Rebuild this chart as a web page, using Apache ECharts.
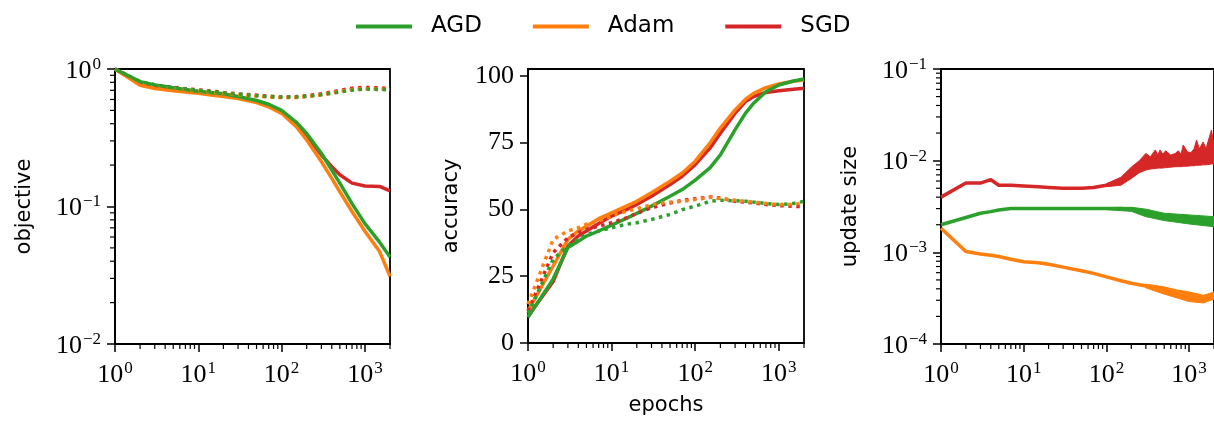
<!DOCTYPE html>
<html lang="en">
<head>
    <meta charset="UTF-8">
    <title>AGD vs Adam vs SGD</title>
    <script src="https://cdn.jsdelivr.net/npm/echarts@6.0.0/dist/echarts.min.js"></script>
    <style>
        html, body { margin: 0; padding: 0; background: #fff; }
        #main { width: 1214px; height: 421px; }
    </style>
</head>
<body>
<div id="main"></div>
<script>
    // epochs shared by all panels
    var epochs = [1, 2, 3, 4, 5, 7, 10, 15, 20, 30, 50, 70, 100, 150, 200, 300, 400, 500, 700, 1000, 1500, 2000]

    // objective (solid = train, dotted = test)
    var objAgdTrain = [1.0, 0.81, 0.765, 0.745, 0.73, 0.71, 0.69, 0.672, 0.66, 0.63, 0.59, 0.554, 0.50, 0.41, 0.34, 0.244, 0.184, 0.148, 0.105, 0.075, 0.055, 0.043]
    var objAdamTrain = [1.0, 0.76, 0.72, 0.705, 0.695, 0.68, 0.665, 0.645, 0.63, 0.61, 0.57, 0.53, 0.476, 0.38, 0.305, 0.212, 0.16, 0.128, 0.092, 0.066, 0.047, 0.031]
    var objSgdTrain = [1.0, 0.78, 0.74, 0.725, 0.71, 0.69, 0.675, 0.66, 0.645, 0.62, 0.58, 0.54, 0.49, 0.40, 0.326, 0.237, 0.195, 0.17, 0.148, 0.141, 0.14, 0.13]
    var objAgdTest = [1.0, 0.81, 0.77, 0.745, 0.73, 0.715, 0.70, 0.685, 0.67, 0.655, 0.64, 0.63, 0.625, 0.625, 0.635, 0.65, 0.665, 0.68, 0.70, 0.715, 0.71, 0.705]
    var objAdamTest = [1.0, 0.78, 0.74, 0.73, 0.72, 0.71, 0.695, 0.68, 0.665, 0.65, 0.635, 0.625, 0.62, 0.62, 0.63, 0.65, 0.67, 0.69, 0.71, 0.72, 0.715, 0.71]
    var objSgdTest = [1.0, 0.80, 0.76, 0.745, 0.735, 0.72, 0.705, 0.69, 0.675, 0.66, 0.645, 0.635, 0.625, 0.63, 0.64, 0.66, 0.68, 0.70, 0.725, 0.735, 0.73, 0.72]

    // accuracy
    var accAgdTrain = [9.6, 24.0, 35.7, 38.1, 40.0, 41.9, 44.1, 46.6, 48.5, 51.2, 54.9, 57.4, 60.9, 65.5, 70.4, 79.8, 86.0, 89.7, 94.0, 96.5, 98.0, 98.8]
    var accAdamTrain = [12.0, 28.8, 38.8, 41.9, 43.7, 46.5, 48.7, 51.2, 53.0, 56.2, 60.5, 63.6, 68.0, 74.8, 80.4, 87.2, 91.2, 93.4, 95.5, 96.9, 97.9, 98.4]
    var accSgdTrain = [10.0, 23.0, 36.3, 40.0, 41.9, 44.7, 47.5, 49.9, 51.8, 54.9, 59.3, 62.4, 66.7, 72.9, 78.5, 86.0, 90.3, 92.2, 93.7, 94.4, 94.9, 95.3]
    var accAgdTest = [11.0, 31.3, 36.3, 38.8, 40.6, 41.9, 43.1, 44.4, 45.0, 46.2, 48.1, 49.9, 51.2, 53.0, 53.4, 53.2, 53.0, 52.7, 52.2, 51.8, 52.2, 53.0]
    var accAdamTest = [14.5, 38.8, 41.9, 43.1, 44.4, 45.6, 47.5, 49.3, 50.2, 51.8, 52.7, 53.0, 53.7, 54.5, 54.0, 53.4, 53.0, 52.7, 52.2, 51.8, 51.8, 52.4]
    var accSgdTest = [12.0, 33.8, 39.4, 41.3, 42.5, 43.7, 45.0, 46.8, 48.5, 50.6, 52.4, 53.4, 54.0, 54.6, 54.2, 53.0, 52.7, 52.4, 51.8, 51.4, 51.1, 51.1]

    // update size
    var updSgd = [0.0040, 0.0057, 0.0057, 0.0062, 0.0054, 0.0054, 0.0053, 0.0052, 0.0051, 0.0050, 0.0050, 0.0051, 0.0054, 0.0060, 0.0073, 0.0095, 0.0100, 0.0103, 0.0106, 0.0110, 0.0113, 0.0118]
    var updAgd = [0.0020, 0.0024, 0.00267, 0.00278, 0.0029, 0.0030, 0.0030, 0.0030, 0.0030, 0.0030, 0.0030, 0.0030, 0.0030, 0.0030, 0.00295, 0.0027, 0.00255, 0.00245, 0.00235, 0.0023, 0.00222, 0.00215]
    var updAdam = [0.00183, 0.00102, 0.00096, 0.00093, 0.0009, 0.00084, 0.00079, 0.00077, 0.00074, 0.00069, 0.00063, 0.00059, 0.00054, 0.00049, 0.00046, 0.00043, 0.0004, 0.00038, 0.00035, 0.00033, 0.00031, 0.00034]

    // noise envelopes of the update size (late epochs)
    var sgdBandEpochs = [100, 150, 200, 250, 300, 340, 390, 420, 445, 480, 520, 600, 680, 740, 800, 850, 950, 1050, 1150, 1230, 1330, 1480, 1600, 1860, 2000]
    var sgdUpper = [0.0056, 0.0066, 0.0085, 0.0100, 0.0120, 0.0110, 0.0131, 0.0115, 0.0131, 0.0118, 0.0128, 0.0115, 0.0120, 0.0128, 0.0118, 0.0148, 0.0125, 0.0122, 0.0135, 0.0168, 0.0135, 0.0160, 0.0135, 0.0216, 0.0150]
    var sgdLower = [0.0052, 0.0054, 0.0064, 0.0074, 0.0079, 0.0081, 0.0082, 0.0083, 0.0083, 0.0083, 0.0084, 0.0085, 0.0086, 0.0086, 0.0086, 0.0087, 0.0087, 0.0088, 0.0088, 0.0089, 0.0089, 0.0090, 0.0090, 0.0092, 0.0092]
    var agdBandEpochs = [100, 200, 300, 500, 1000, 2000]
    var agdUpper = [0.00308, 0.0031, 0.00296, 0.00267, 0.00256, 0.00245]
    var agdLower = [0.00292, 0.0028, 0.00245, 0.00222, 0.00204, 0.0019]
    var adamBandEpochs = [300, 500, 700, 1000, 1500, 2000]
    var adamUpper = [0.00045, 0.00042, 0.00039, 0.00037, 0.00034, 0.00037]
    var adamLower = [0.00041, 0.00035, 0.00032, 0.00029, 0.00028, 0.00031]

    // tick values
    var accTicks = [0, 25, 50, 75, 100]
    var epochMinor = [2, 3, 4, 5, 6, 7, 8, 9, 20, 30, 40, 50, 60, 70, 80, 90, 200, 300, 400, 500, 600, 700, 800, 900, 2000]
    var objMinor = [0.02, 0.03, 0.04, 0.05, 0.06, 0.07, 0.08, 0.09, 0.2, 0.3, 0.4, 0.5, 0.6, 0.7, 0.8, 0.9]
    var updMinor = [0.0002, 0.0003, 0.0004, 0.0005, 0.0006, 0.0007, 0.0008, 0.0009,
        0.002, 0.003, 0.004, 0.005, 0.006, 0.007, 0.008, 0.009,
        0.02, 0.03, 0.04, 0.05, 0.06, 0.07, 0.08, 0.09]

    var GREEN = '#2ca02c', ORANGE = '#ff7f0e', RED = '#d62728'
    var SERIF = 'Liberation Serif'
    var SANS = 'DejaVu Sans'

    function pair(ys) {
        return epochs.map(function (x, i) { return [x, ys[i]] })
    }

    function powLabel(v) {
        var l = Math.log10(v)
        var e = Math.round(l)
        if (Math.abs(l - e) > 1e-6) return ''
        return '{b|10}{s|' + (e < 0 ? '\u2212' + (-e) : e) + '}'
    }

    var powRich = {
        b: { fontFamily: SERIF, fontSize: 26, color: '#000', lineHeight: 30, verticalAlign: 'bottom' },
        s: { fontFamily: SERIF, fontSize: 17, color: '#000', lineHeight: 30, verticalAlign: 'top', padding: [2, 0, 0, 1] }
    }

    function logX(i, withName) {
        return {
            type: 'log', gridIndex: i, min: 1, max: 2000, logBase: 10,
            name: withName ? 'epochs' : '', nameLocation: 'middle', nameGap: 52,
            nameTextStyle: { fontFamily: SANS, fontSize: 21, color: '#000' },
            axisLine: { lineStyle: { color: '#000', width: 1.8 } },
            axisTick: { length: 8, lineStyle: { color: '#000', width: 1.5 } },
            axisLabel: { margin: 14, formatter: powLabel, rich: powRich, showMaxLabel: false },
            splitLine: { show: false }
        }
    }

    function axisName(text, gap) {
        return {
            name: text, nameLocation: 'middle', nameGap: gap, nameRotate: 90,
            nameTextStyle: { fontFamily: SANS, fontSize: 21, color: '#000' }
        }
    }

    function logY(i, min, max, name, gap) {
        return Object.assign({
            type: 'log', gridIndex: i, min: min, max: max, logBase: 10,
            axisLine: { lineStyle: { color: '#000', width: 1.8 } },
            axisTick: { length: 8, lineStyle: { color: '#000', width: 1.5 } },
            axisLabel: { margin: 14, formatter: powLabel, rich: powRich },
            splitLine: { show: false }
        }, axisName(name, gap))
    }

    // minor ticks drawn with the axes' own coordinate mapping
    function minorX(i, yMin) {
        return {
            type: 'custom', name: 'minorx' + i, xAxisIndex: i, yAxisIndex: i, silent: true, clip: false, z: 5,
            data: epochMinor.map(function (v) { return [v, yMin] }),
            renderItem: function (params, api) {
                var p = api.coord([api.value(0), api.value(1)])
                return { type: 'line', shape: { x1: p[0], y1: p[1], x2: p[0], y2: p[1] + 5 }, style: { stroke: '#000', lineWidth: 1.2 } }
            }
        }
    }

    function minorY(i, vals) {
        return {
            type: 'custom', name: 'minory' + i, xAxisIndex: i, yAxisIndex: i, silent: true, clip: false, z: 5,
            data: vals.map(function (v) { return [1, v] }),
            renderItem: function (params, api) {
                var p = api.coord([api.value(0), api.value(1)])
                return { type: 'line', shape: { x1: p[0] - 5, y1: p[1], x2: p[0], y2: p[1] }, style: { stroke: '#000', lineWidth: 1.2 } }
            }
        }
    }

    // filled envelope between two read-off curves
    function band(i, xs, upper, lower, color) {
        return {
            type: 'custom', name: 'band', xAxisIndex: i, yAxisIndex: i, silent: true, clip: true, z: 2,
            data: [[xs[0], upper[0]]],
            renderItem: function (params, api) {
                var pts = []
                for (var k = 0; k < xs.length; k++) pts.push(api.coord([xs[k], upper[k]]))
                for (var k2 = xs.length - 1; k2 >= 0; k2--) pts.push(api.coord([xs[k2], lower[k2]]))
                return { type: 'polygon', shape: { points: pts }, style: { fill: color, stroke: color, lineWidth: 1 } }
            }
        }
    }

    function line(name, i, ys, color, dotted) {
        return {
            type: 'line', name: name, xAxisIndex: i, yAxisIndex: i, data: pair(ys),
            showSymbol: false, symbol: 'none', smooth: false, clip: true, z: 3,
            lineStyle: { color: color, width: 3.5, type: dotted ? [3.5, 4.5] : 'solid', cap: 'butt', join: 'round' },
            itemStyle: { color: color }
        }
    }

    var myChart = echarts.init(document.getElementById('main'), null, { renderer: 'canvas' })

    var gridBox = { show: true, borderColor: '#000', borderWidth: 1.8, backgroundColor: 'transparent' }

    var option = {
        animation: false,
        backgroundColor: '#fff',
        legend: {
            data: ['AGD', 'Adam', 'SGD'],
            left: 351, top: 10,
            icon: 'rect', itemWidth: 56, itemHeight: 4, itemGap: 51,
            textStyle: { fontFamily: SANS, fontSize: 23, color: '#000', padding: [0, 0, 0, 14] }
        },
        grid: [
            Object.assign({ left: 115, top: 69, width: 275, height: 275 }, gridBox),
            Object.assign({ left: 528, top: 69, width: 276, height: 275 }, gridBox),
            Object.assign({ left: 941, top: 69, width: 275, height: 275 }, gridBox)
        ],
        xAxis: [logX(0, false), logX(1, true), logX(2, false)],
        yAxis: [
            logY(0, 0.01, 1, 'objective', 80),
            Object.assign({
                type: 'value', gridIndex: 1, min: 0, max: 102.5,
                axisLine: { lineStyle: { color: '#000', width: 1.8 } },
                axisTick: { length: 8, customValues: accTicks, lineStyle: { color: '#000', width: 1.5 } },
                axisLabel: { margin: 14, customValues: accTicks, fontFamily: SERIF, fontSize: 26, color: '#000' },
                splitLine: { show: false }
            }, axisName('accuracy', 66)),
            logY(2, 0.0001, 0.1, 'update size', 80)
        ],
        series: [
            line('SGD', 0, objSgdTrain, RED, false),
            line('Adam', 0, objAdamTrain, ORANGE, false),
            line('AGD', 0, objAgdTrain, GREEN, false),
            line('SGD test', 0, objSgdTest, RED, true),
            line('Adam test', 0, objAdamTest, ORANGE, true),
            line('AGD test', 0, objAgdTest, GREEN, true),

            line('SGD', 1, accSgdTrain, RED, false),
            line('Adam', 1, accAdamTrain, ORANGE, false),
            line('AGD', 1, accAgdTrain, GREEN, false),
            line('SGD test', 1, accSgdTest, RED, true),
            line('Adam test', 1, accAdamTest, ORANGE, true),
            line('AGD test', 1, accAgdTest, GREEN, true),

            band(2, sgdBandEpochs, sgdUpper, sgdLower, RED),
            band(2, agdBandEpochs, agdUpper, agdLower, GREEN),
            band(2, adamBandEpochs, adamUpper, adamLower, ORANGE),
            line('SGD', 2, updSgd, RED, false),
            line('Adam', 2, updAdam, ORANGE, false),
            line('AGD', 2, updAgd, GREEN, false),

            minorX(0, 0.01), minorX(1, 0), minorX(2, 0.0001),
            minorY(0, objMinor), minorY(2, updMinor)
        ]
    }

    myChart.setOption(option)
</script>
</body>
</html>
